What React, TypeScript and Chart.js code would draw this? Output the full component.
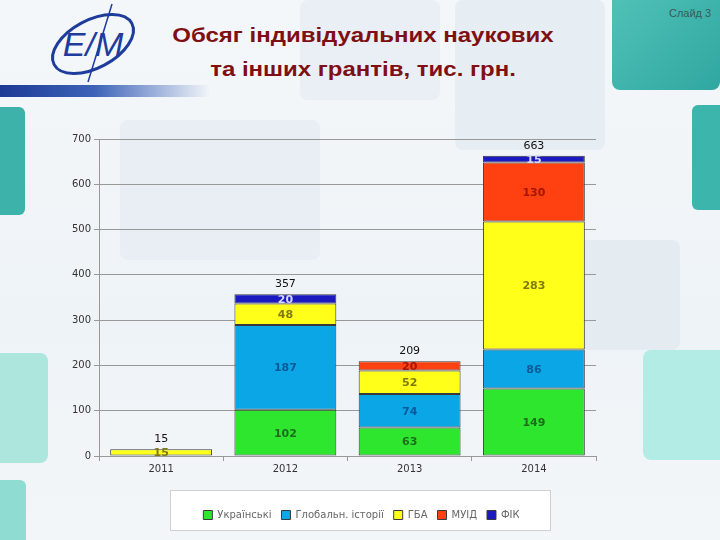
import React, { useEffect, useRef } from 'react';
import { Chart, registerables } from 'chart.js';
Chart.register(...registerables);

const categories = ['2011', '2012', '2013', '2014'];
const seriesNames = ['Українські', 'Глобальн. історії', 'ГБА', 'МУІД', 'ФІК'];
const ukrainian = [null, 102, 63, 149];
const globalHist = [null, 187, 74, 86];
const gba = [15, 48, 52, 283];
const muid = [null, null, 20, 130];
const fik = [null, 20, null, 15];
const totals = [15, 357, 209, 663];
const yTicks = [0, 100, 200, 300, 400, 500, 600, 700];

const fills = ['#2ee62e', '#0ba6e6', '#ffff1a', '#ff4010', '#1a1ac0'];
const labelColors = ['#1f6b1f', '#0a5a9a', '#7f7a10', '#a01808', '#d8d8ff'];

const segmentLabels = {
  id: 'segmentLabels',
  afterDatasetsDraw(chart: any) {
    const ctx = chart.ctx;
    ctx.save();
    ctx.font = 'bold 11px "DejaVu Sans"';
    ctx.textAlign = 'center';
    ctx.textBaseline = 'middle';
    chart.data.datasets.forEach((ds: any, di: number) => {
      const meta = chart.getDatasetMeta(di);
      meta.data.forEach((el: any, i: number) => {
        const v = ds.data[i];
        if (v === null || v === undefined) return;
        ctx.fillStyle = labelColors[di];
        ctx.fillText(String(v), el.x, (el.y + el.base) / 2 + 1);
      });
    });
    const ys = chart.scales.y;
    const xs = chart.scales.x;
    ctx.font = '11px "DejaVu Sans"';
    ctx.fillStyle = '#111';
    totals.forEach((t, i) => {
      ctx.fillText(String(t), xs.getPixelForValue(i), ys.getPixelForValue(t) - 10);
    });
    ctx.restore();
  },
};

const legendShift = {
  id: 'legendShift',
  afterLayout(chart: any) {
    const lg = chart.legend;
    if (!lg) return;
    lg.left += 33;
    lg.right += 33;
  },
};

const legendBox = {
  id: 'legendBox',
  beforeDraw(chart: any) {
    const lg = chart.legend;
    if (!lg || !lg.legendHitBoxes) return;
    const hb = lg.legendHitBoxes;
    const minX = Math.min(...hb.map((h: any) => h.left));
    const maxX = Math.max(...hb.map((h: any) => h.left + h.width));
    const ctx = chart.ctx;
    ctx.save();
    ctx.fillStyle = '#ffffff';
    ctx.strokeStyle = '#d0d0d0';
    ctx.lineWidth = 1;
    const x0 = Math.round(minX - 33) + 0.5;
    const x1 = Math.round(maxX + 30) + 0.5;
    const y0 = Math.round(lg.top - 10) + 0.5;
    const y1 = Math.round(lg.bottom) + 0.5;
    ctx.fillRect(x0, y0, x1 - x0, y1 - y0);
    ctx.strokeRect(x0, y0, x1 - x0, y1 - y0);
    ctx.restore();
  },
};

function ChartView() {
  const ref = useRef<HTMLCanvasElement>(null);
  useEffect(() => {
    if (!ref.current) return;
    const series = [ukrainian, globalHist, gba, muid, fik];
    const chart = new Chart(ref.current, {
      type: 'bar',
      data: {
        labels: categories,
        datasets: series.map((d, i) => ({
          label: seriesNames[i],
          data: d as any,
          backgroundColor: fills[i],
          borderColor: '#3a3a3a',
          borderWidth: 1,
          borderSkipped: false,
          barPercentage: 0.82,
          categoryPercentage: 1,
        })),
      },
      options: {
        animation: false,
        responsive: false,
        maintainAspectRatio: false,
        layout: { padding: { left: 61, right: 124, top: 139, bottom: 10 } },
        plugins: {
          legend: {
            position: 'bottom',
            labels: {
              boxWidth: 9,
              boxHeight: 9,
              padding: 10,
              color: '#666',
              font: { family: '"DejaVu Sans"', size: 10 },
            },
          },
          tooltip: { enabled: false },
        },
        scales: {
          x: {
            stacked: true,
            grid: { drawOnChartArea: false, offset: true, tickLength: 5, color: '#999' },
            border: { color: '#999' },
            ticks: { color: '#333', font: { family: '"DejaVu Sans"', size: 10 }, padding: 2 },
            afterFit(s: any) { s.height = 44; },
          },
          y: {
            stacked: true,
            min: 0,
            max: 700,
            afterBuildTicks(s: any) { s.ticks = yTicks.map((v) => ({ value: v })); },
            grid: { color: '#999', tickLength: 5 },
            border: { color: '#999' },
            ticks: { color: '#333', font: { family: '"DejaVu Sans"', size: 10 }, padding: 3 },
            afterFit(s: any) { s.width = 38; },
          },
        },
      },
      plugins: [segmentLabels, legendShift, legendBox],
    } as any);
    return () => chart.destroy();
  }, []);
  return <canvas ref={ref} width={720} height={540} style={{ position: 'absolute', left: 0, top: 0 }} />;
}

const box = (s: React.CSSProperties) => <div style={{ position: 'absolute', ...s }} />;

export default function App() {
  return (
    <div style={{ position: 'absolute', left: 0, top: 0, width: 720, height: 540, overflow: 'hidden', background: 'linear-gradient(180deg,#f4f7fa 0%,#eef3f7 60%,#f3f6f9 100%)' }}>
      {box({ left: 300, top: 0, width: 140, height: 100, background: '#e9eff4', borderRadius: 8 })}
      {box({ left: 455, top: 0, width: 150, height: 150, background: '#e6edf3', borderRadius: 8 })}
      {box({ left: 120, top: 120, width: 200, height: 140, background: '#e8eef3', borderRadius: 8 })}
      {box({ left: 580, top: 240, width: 100, height: 110, background: '#e4ebf1', borderRadius: 8 })}
      {box({ left: 612, top: -10, width: 108, height: 100, background: 'linear-gradient(135deg,#52c2b8,#2fa7a0)', borderRadius: 8 })}
      {box({ left: 692, top: 105, width: 40, height: 105, background: '#3cb5ad', borderRadius: 6 })}
      {box({ left: 643, top: 350, width: 90, height: 110, background: '#b2ece4', borderRadius: 8 })}
      {box({ left: -10, top: 107, width: 35, height: 108, background: '#3cb2aa', borderRadius: 6 })}
      {box({ left: -10, top: 353, width: 58, height: 110, background: '#ace6dc', borderRadius: 8 })}
      {box({ left: -10, top: 480, width: 36, height: 80, background: '#8fdcd2', borderRadius: 6 })}
      {box({ left: 0, top: 85, width: 210, height: 12, background: 'linear-gradient(90deg,#1d3a94 0%,#3d63b8 45%,rgba(120,150,210,0) 100%)' })}
      <svg width={110} height={86} style={{ position: 'absolute', left: 38, top: 0 }}>
        <ellipse cx={55} cy={44} rx={44} ry={24} transform="rotate(-28 55 44)" fill="none" stroke="#1e3c9c" strokeWidth={3} />
        <line x1={50} y1={82} x2={74} y2={4} stroke="#1e3c9c" strokeWidth={1.5} />
        <text x={55} y={56} textAnchor="middle" fontFamily="Liberation Sans" fontStyle="italic" fontSize={34} fill="#1e3c9c">E/M</text>
      </svg>
      <div style={{ position: 'absolute', left: 0, top: 18, width: 726, textAlign: 'center', fontFamily: '"Liberation Sans", Arial, sans-serif', fontWeight: 'bold', fontSize: 20, lineHeight: '34px', color: '#7e1014', transform: 'scaleX(1.2)', transformOrigin: '363px 0' }}>
        Обсяг індивідуальних наукових<br />та інших грантів, тис. грн.
      </div>
      <div style={{ position: 'absolute', left: 669, top: 7, fontFamily: '"Liberation Sans", Arial, sans-serif', fontSize: 11, color: '#3a5a5a' }}>Слайд 3</div>
      <ChartView />
    </div>
  );
}
